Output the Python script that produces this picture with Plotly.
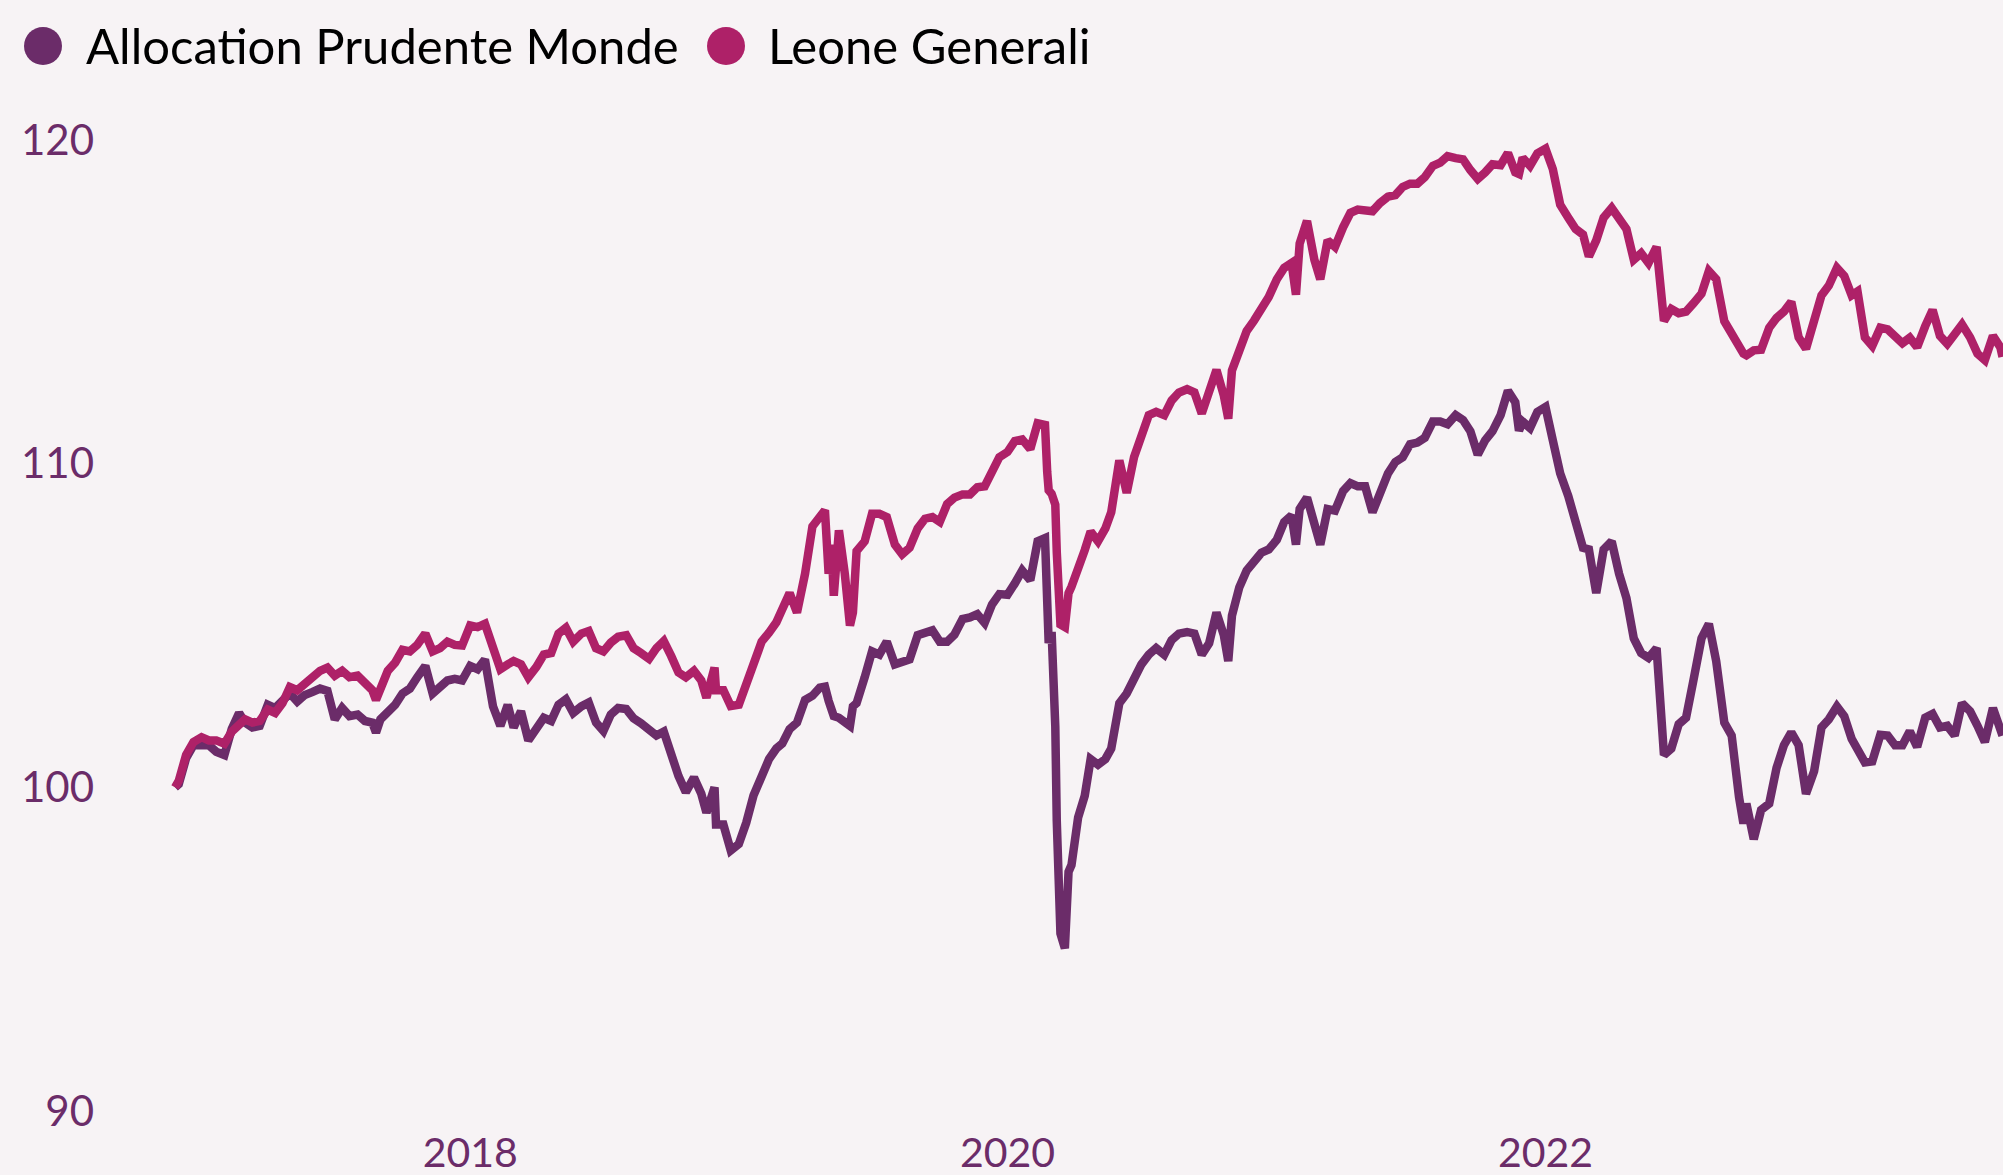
import plotly.graph_objects as go

# ---------------- data ----------------
series_names = ["Allocation Prudente Monde", "Leone Generali"]

dates = [
    "2016-11-26", "2016-12-01", "2016-12-11", "2016-12-21",
    "2017-01-01", "2017-01-11", "2017-01-21", "2017-02-01", "2017-02-11", "2017-02-21",
    "2017-03-01", "2017-03-11", "2017-03-21", "2017-04-01", "2017-04-11", "2017-04-21",
    "2017-05-01", "2017-05-11", "2017-05-21", "2017-06-01", "2017-06-11", "2017-06-21",
    "2017-07-01", "2017-07-11", "2017-07-21", "2017-08-01", "2017-08-11", "2017-08-21",
    "2017-08-26", "2017-09-01", "2017-09-11", "2017-09-21", "2017-10-01", "2017-10-11",
    "2017-10-21", "2017-11-01", "2017-11-11", "2017-11-21", "2017-12-01", "2017-12-11",
    "2017-12-21",
    "2018-01-01", "2018-01-11", "2018-01-21", "2018-02-01", "2018-02-11", "2018-02-21",
    "2018-03-01", "2018-03-11", "2018-03-21", "2018-04-01", "2018-04-11", "2018-04-21",
    "2018-05-01", "2018-05-11", "2018-05-21", "2018-06-01", "2018-06-11", "2018-06-21",
    "2018-07-01", "2018-07-11", "2018-07-21", "2018-08-01", "2018-08-11", "2018-08-21",
    "2018-09-01", "2018-09-11", "2018-09-21", "2018-10-01", "2018-10-11", "2018-10-21",
    "2018-11-01", "2018-11-11", "2018-11-18", "2018-11-29", "2018-12-01", "2018-12-11",
    "2018-12-21",
    "2019-01-01", "2019-01-11", "2019-01-21", "2019-02-01", "2019-02-11", "2019-02-21",
    "2019-03-01", "2019-03-11", "2019-03-21", "2019-04-01", "2019-04-11", "2019-04-21",
    "2019-04-28", "2019-05-03", "2019-05-07", "2019-05-10", "2019-05-17", "2019-05-25",
    "2019-06-01", "2019-06-05", "2019-06-10", "2019-06-21", "2019-07-01", "2019-07-11",
    "2019-07-21", "2019-08-01", "2019-08-11", "2019-08-21", "2019-09-01", "2019-09-11",
    "2019-09-21", "2019-10-01", "2019-10-11", "2019-10-21", "2019-11-01", "2019-11-11",
    "2019-11-21", "2019-12-01", "2019-12-11", "2019-12-21",
    "2020-01-01", "2020-01-11", "2020-01-21", "2020-02-01", "2020-02-11", "2020-02-21",
    "2020-02-24", "2020-02-26", "2020-03-01", "2020-03-06", "2020-03-08", "2020-03-10",
    "2020-03-13", "2020-03-19", "2020-03-24", "2020-03-28", "2020-04-06", "2020-04-15",
    "2020-04-23", "2020-05-03", "2020-05-13", "2020-05-21", "2020-06-01", "2020-06-11",
    "2020-06-21", "2020-07-01", "2020-07-11", "2020-07-21", "2020-08-01", "2020-08-11",
    "2020-08-21", "2020-09-01", "2020-09-11", "2020-09-21", "2020-10-01", "2020-10-11",
    "2020-10-21", "2020-10-27", "2020-11-01", "2020-11-11", "2020-11-21", "2020-12-01",
    "2020-12-11", "2020-12-21",
    "2021-01-01", "2021-01-11", "2021-01-21", "2021-01-27", "2021-02-01", "2021-02-11",
    "2021-02-21", "2021-03-01", "2021-03-11", "2021-03-21", "2021-04-01", "2021-04-11",
    "2021-04-21", "2021-05-01", "2021-05-11", "2021-05-21", "2021-06-01", "2021-06-11",
    "2021-06-21", "2021-07-01", "2021-07-11", "2021-07-21", "2021-08-01", "2021-08-11",
    "2021-08-21", "2021-09-01", "2021-09-11", "2021-09-21", "2021-10-01", "2021-10-11",
    "2021-10-21", "2021-11-01", "2021-11-11", "2021-11-21", "2021-11-26", "2021-12-01",
    "2021-12-11", "2021-12-21",
    "2022-01-01", "2022-01-11", "2022-01-21", "2022-02-01", "2022-02-11", "2022-02-21",
    "2022-03-01", "2022-03-11", "2022-03-21", "2022-04-01", "2022-04-11", "2022-04-21",
    "2022-05-01", "2022-05-11", "2022-05-21", "2022-06-01", "2022-06-11", "2022-06-21",
    "2022-07-01", "2022-07-11", "2022-07-21", "2022-08-01", "2022-08-11", "2022-08-21",
    "2022-09-01", "2022-09-11", "2022-09-21", "2022-09-27", "2022-10-01", "2022-10-11",
    "2022-10-21", "2022-11-01", "2022-11-11", "2022-11-21", "2022-12-01", "2022-12-11",
    "2022-12-21",
    "2023-01-01", "2023-01-11", "2023-01-21", "2023-02-01", "2023-02-11", "2023-02-21",
    "2023-03-01", "2023-03-11", "2023-03-21", "2023-04-01", "2023-04-11", "2023-04-21",
    "2023-05-01", "2023-05-11", "2023-05-21", "2023-06-01", "2023-06-11", "2023-06-21",
    "2023-07-01", "2023-07-11", "2023-07-21", "2023-08-01", "2023-08-11", "2023-08-21",
    "2023-09-01", "2023-09-11", "2023-09-14",
]

allocation_prudente_monde = [
    100.0, 100.1, 100.9, 101.3,
    101.3, 101.3, 101.1, 101.0, 101.8, 102.3,
    102.0, 101.85, 101.9, 102.55, 102.45, 102.7,
    102.9, 102.65, 102.85, 102.95, 103.05, 102.98,
    102.1, 102.45, 102.2, 102.25, 102.05, 102.0,
    101.69, 102.1, 102.3, 102.55, 102.9, 103.05,
    103.4, 103.75, 102.9, 103.13, 103.3, 103.35,
    103.3,
    103.75, 103.65, 103.95, 102.5, 101.9, 102.55,
    101.85, 102.35, 101.45, 101.82, 102.15, 102.05,
    102.55, 102.72, 102.3, 102.5, 102.62, 102.0,
    101.74, 102.25, 102.45, 102.42, 102.13, 101.98,
    101.75, 101.6, 101.72, 100.97, 100.35, 99.85,
    100.3, 99.8, 99.22, 100.0, 98.85, 98.85,
    98.05,
    98.25, 98.9, 99.75, 100.4, 100.87, 101.2,
    101.35, 101.8, 102.0, 102.7, 102.83, 103.08,
    103.11, 102.67, 102.33, 102.2, 102.15, 102.05,
    101.9, 102.5, 102.6, 103.4, 104.2, 104.1,
    104.5, 103.8, 103.85, 103.95, 104.7, 104.8,
    104.85, 104.5, 104.5, 104.72, 105.2, 105.25,
    105.35, 105.08, 105.65, 105.97,
    105.95, 106.3, 106.7, 106.4, 107.6, 107.7,
    104.69, 104.46, 104.8, 101.88, 98.96, 97.39,
    95.48, 95.03, 97.39, 97.6, 99.07, 99.74,
    100.87, 100.7, 100.87, 101.2, 102.6, 102.9,
    103.4, 103.8, 104.1, 104.3, 104.1, 104.55,
    104.75, 104.8, 104.75, 104.1, 104.45, 105.4,
    104.7, 103.9, 105.3, 106.18, 106.7, 107.0,
    107.25, 107.35,
    107.65, 108.2, 108.4, 107.5, 108.6, 108.95,
    108.0, 107.5, 108.6, 108.55, 109.15, 109.4,
    109.3, 109.3, 108.5, 109.1, 109.7, 110.05,
    110.2, 110.6, 110.65, 110.8, 111.3, 111.3,
    111.22, 111.5, 111.35, 111.0, 110.28, 110.72,
    111.0, 111.5, 112.25, 111.9, 111.02, 111.3,
    111.1, 111.6,
    111.75, 110.72, 109.7, 109.0, 108.3, 107.4,
    107.35, 106.0, 107.35, 107.6, 106.6, 105.85,
    104.6, 104.15, 104.0, 104.3, 101.0, 101.2,
    101.95, 102.15, 103.3, 104.6, 105.05, 103.9,
    102.0, 101.6, 99.7, 98.88, 99.5, 98.4,
    99.3, 99.5, 100.6, 101.3, 101.7, 101.3,
    99.8,
    100.5, 101.85, 102.1, 102.5, 102.2, 101.5,
    101.15, 100.77, 100.8, 101.62, 101.6, 101.3,
    101.3, 101.73, 101.25, 102.15, 102.27, 101.85,
    101.9, 101.6, 102.6, 102.35, 101.9, 101.4,
    102.45, 101.9, 101.6,
]

leone_generali = [
    100.0, 100.2, 101.0, 101.4,
    101.55, 101.45, 101.45, 101.35, 101.72, 101.9,
    102.1, 102.0, 102.05, 102.4, 102.3, 102.6,
    103.1, 103.0, 103.2, 103.35, 103.6, 103.7,
    103.45, 103.6, 103.4, 103.45, 103.25, 103.0,
    102.7, 103.05, 103.6, 103.85, 104.25, 104.2,
    104.4, 104.75, 104.2, 104.3, 104.5, 104.4,
    104.38,
    105.0, 104.95, 105.05, 104.3, 103.65, 103.8,
    103.9, 103.8, 103.4, 103.72, 104.1, 104.15,
    104.75, 104.93, 104.5, 104.75, 104.83, 104.3,
    104.2, 104.47, 104.65, 104.7, 104.3, 104.15,
    103.97, 104.3, 104.52, 104.06, 103.55, 103.4,
    103.6, 103.3, 102.77, 103.7, 103.0, 103.0,
    102.51,
    102.55, 103.2, 103.75, 104.5, 104.78, 105.1,
    105.5, 106.0, 105.4, 106.6, 108.06, 108.4,
    108.56, 106.6, 107.5, 105.92, 107.94, 106.6,
    105.0, 105.4, 107.3, 107.6, 108.45, 108.45,
    108.35, 107.5, 107.2, 107.4, 108.0, 108.3,
    108.35, 108.2, 108.75, 108.95, 109.05, 109.05,
    109.27, 109.3, 109.8, 110.2,
    110.36, 110.7, 110.75, 110.45, 111.25, 111.2,
    109.74, 109.18, 109.07, 108.73, 107.27, 106.26,
    105.03, 104.95, 106.0, 106.2, 106.7, 107.33,
    107.9, 107.6, 108.0, 108.5, 110.1, 109.1,
    110.2, 110.9, 111.5, 111.6, 111.5, 111.95,
    112.2, 112.3, 112.2, 111.55, 112.14, 112.9,
    112.1, 111.39, 112.88, 113.52, 114.1, 114.42,
    114.8, 115.15,
    115.7, 116.05, 116.2, 115.22, 116.8, 117.5,
    116.3, 115.7, 116.9, 116.7, 117.3, 117.75,
    117.85, 117.8, 117.8, 118.05, 118.25, 118.3,
    118.55, 118.65, 118.65, 118.85, 119.2, 119.3,
    119.5, 119.44, 119.4, 119.07, 118.8, 119.0,
    119.25, 119.22, 119.6, 119.0, 118.95, 119.45,
    119.2, 119.59,
    119.73, 119.1, 118.0, 117.6, 117.25, 117.08,
    116.4, 116.9, 117.6, 117.9, 117.6, 117.25,
    116.3, 116.5, 116.2, 116.7, 114.41, 114.78,
    114.65, 114.7, 114.95, 115.25, 115.95, 115.7,
    114.4, 114.0, 113.58, 113.4, 113.35, 113.5,
    113.52, 114.2, 114.5, 114.7, 115.0, 113.9,
    113.55,
    114.39, 115.2, 115.5, 116.05, 115.8, 115.2,
    115.32, 113.9, 113.64, 114.2, 114.15, 113.9,
    113.72, 113.89, 113.6, 114.25, 114.75, 113.95,
    113.7, 114.0, 114.3, 113.9, 113.4, 113.2,
    113.95, 113.6, 113.3,
]

y_ticks = [90, 100, 110, 120]
x_range = ["2016-08-16", "2023-09-14 16:00"]

# ---------------- style ----------------
W, H = 2003, 1175
M_L, M_R, M_T, M_B = 100, 0, 140, 64
PLOT_W = W - M_L - M_R
PLOT_H = H - M_T - M_B
colors = ["#6b2c69", "#ae2168"]
bg = "#f7f3f5"
font_family = "Lato, 'Open Sans', sans-serif"

fig = go.Figure()
for name, vals, col in zip(series_names, [allocation_prudente_monde, leone_generali], colors):
    fig.add_trace(go.Scatter(
        x=dates, y=vals, name=name, mode="lines",
        line=dict(color=col, width=8.5, shape="linear"),
        showlegend=False,
    ))

# custom legend (large circles + real text)
def px_to_paper_x(px):
    return (px - M_L) / PLOT_W

def px_to_paper_y(py):
    return (H - M_B - py) / PLOT_H

legend_items = [(43, 84), (726, 766)]  # circle centre x, text start x (pixels)
legend_y = 46
shapes = []
annotations = []
for (cx, tx), name, col in zip(legend_items, series_names, colors):
    shapes.append(dict(
        type="circle", xref="paper", yref="paper",
        xsizemode="pixel", ysizemode="pixel",
        xanchor=px_to_paper_x(cx), yanchor=px_to_paper_y(legend_y),
        x0=-19, x1=19, y0=-19, y1=19,
        fillcolor=col, line=dict(width=0),
    ))
    annotations.append(dict(
        text=name, xref="paper", yref="paper",
        x=px_to_paper_x(tx), y=px_to_paper_y(legend_y - 1),
        xanchor="left", yanchor="middle", showarrow=False,
        font=dict(family=font_family, size=49, color="#000000"),
    ))

fig.update_layout(
    width=W, height=H, autosize=False,
    margin=dict(l=M_L, r=M_R, t=M_T, b=M_B, pad=0),
    paper_bgcolor=bg, plot_bgcolor=bg,
    showlegend=False,
    shapes=shapes, annotations=annotations,
    xaxis=dict(
        type="date", range=x_range, automargin=False,
        tick0="2018-01-01", dtick="M24", tickformat="%Y",
        showgrid=False, zeroline=False, showline=False, ticks="",
        tickfont=dict(family=font_family, size=41, color=colors[0]),
        ticklabelstandoff=14,
    ),
    yaxis=dict(
        range=[y_ticks[0], y_ticks[-1]], tickvals=y_ticks, automargin=False,
        showgrid=False, zeroline=False, showline=False, ticks="",
        tickfont=dict(family=font_family, size=42, color=colors[0]),
        ticklabelstandoff=5,
    ),
)

fig.write_html(
    "out.html",
    config={"displayModeBar": False},
    post_script="document.body.style.margin='0';document.body.style.overflow='hidden';",
)
